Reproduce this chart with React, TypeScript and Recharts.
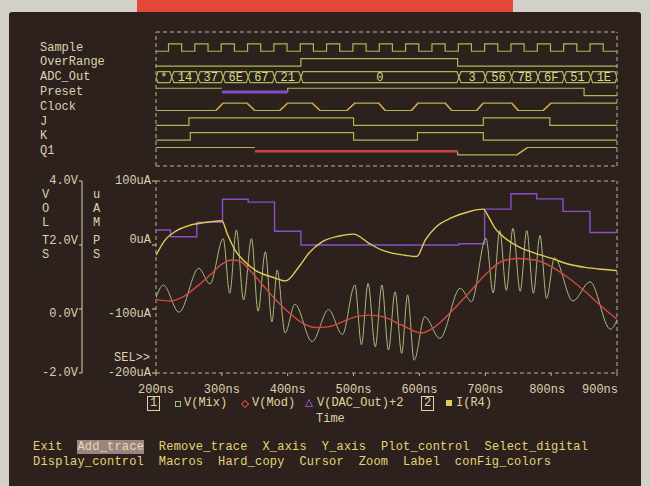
import { LineChart, Line, XAxis, YAxis, ReferenceLine, ReferenceDot } from 'recharts'

const MONO = "'Liberation Mono', 'DejaVu Sans Mono', monospace"
const BG = '#2c211d'
const INK = '#ddd1ae'
const DASH = '#bdb49c'
const DIG = '#a9b957'
const AMBER = '#d6a248'
const MIX_C = '#a6ba7c'
const MOD_C = '#d24b40'
const DAC_C = '#8b50c8'
const IR4_C = '#dfcd58'
const MENU = '#e4d577'

// ---- analog traces: [time ns, value] ----
const MIX: [number, number][] = [
  [200, 0.35], [211, 0.75], [235, -0.1], [265, 1.27], [282, 0.78], [302, 2.2], [312, 0.49], [322, 2.47],
  [333, 0.28], [345, 2.2], [355, -0.07], [366, 1.79], [376, -0.4], [384, 1.22], [396, -0.75], [411, 0.15],
  [437, -1.02], [462, -0.02], [483, -0.8], [502, 0.75], [512, -1.12], [522, 0.8], [533, -1.18], [543, 0.75],
  [553, -1.28], [563, 0.54], [573, -1.39], [582, 0.44], [592, -1.6], [608, -0.24], [631, -0.92], [662, 0.65],
  [679, 0.23], [701, 2.21], [712, 0.5], [722, 2.45], [732, 0.58], [742, 2.52], [753, 0.55], [763, 2.45],
  [773, 0.49], [783, 2.3], [793, 0.33], [805, 1.6], [833, 0.25], [859, 0.85], [890, -0.63], [900, -0.35],
]
const MOD: [number, number][] = [
  [200, 0.3], [221, 0.25], [241, 0.38], [262, 0.7], [282, 1.06], [300, 1.4], [315, 1.53], [327, 1.5],
  [342, 1.22], [362, 0.75], [382, 0.28], [403, -0.13], [423, -0.45], [443, -0.58], [463, -0.55], [483, -0.4],
  [504, -0.24], [524, -0.19], [544, -0.24], [573, -0.5], [603, -0.75], [624, -0.55], [650, -0.05], [675, 0.5],
  [700, 1.07], [726, 1.5], [751, 1.58], [776, 1.53], [801, 1.32], [827, 0.96], [852, 0.54], [877, 0.07], [900, -0.32],
]
const DAC_T = [200, 222, 262, 301, 340, 380, 420, 660, 699, 739, 778, 818, 859, 900]
const DAC_V = [2.47, 2.26, 2.71, 3.43, 3.34, 2.43, 2.0, 2.04, 3.12, 3.6, 3.44, 3.05, 2.39, 2.39]
const IR4: [number, number][] = [
  [200, -16], [214, 8], [229, 21], [249, 30], [274, 35], [300, 38], [308, 18], [320, -8], [335, -26],
  [355, -42], [376, -50], [397, -56], [417, -34], [432, -13], [452, 5], [478, 14], [500, 17], [523, 3],
  [543, -8], [560, -13], [578, -16], [596, -18], [609, 8], [624, 27], [650, 43], [675, 52], [697, 56],
  [705, 44], [715, 26], [731, 10], [751, -3], [776, -13], [801, -21], [827, -30], [852, -35], [877, -38], [900, -40],
]

const X_TICKS = [200, 300, 400, 500, 600, 700, 800, 900]
const V_TICKS = [-2, 0, 2, 4]
const I_TICKS = [-200, -100, 0, 100]

// ---- digital waves: [start, end, level]  (start < end = slow transition) ----
type Lvl = 0 | 1 | 'x' | 'z'
type Edge = [number, number, Lvl]
const ROWS = ['Sample', 'OverRange', 'ADC_Out', 'Preset', 'Clock', 'J', 'K', 'Q1']
const SAMPLE: Edge[] = [
  [200, 200, 0], [219, 219, 1], [239, 239, 0], [259, 259, 1], [279, 279, 0], [299, 299, 1], [319, 319, 0],
  [339, 339, 1], [359, 359, 0], [379, 379, 1], [399, 399, 0], [419, 419, 1], [439, 439, 0], [459, 459, 1],
  [479, 479, 0], [499, 499, 1], [519, 519, 0], [539, 539, 1], [559, 559, 0], [579, 579, 1], [599, 599, 0],
  [619, 619, 1], [639, 639, 0], [659, 659, 1], [679, 679, 0], [699, 699, 1], [719, 719, 0], [739, 739, 1],
  [759, 759, 0], [779, 779, 1], [799, 799, 0], [819, 819, 1], [839, 839, 0], [859, 859, 1], [879, 879, 0],
]
const OVER: Edge[] = [[200, 200, 0], [420, 420, 1], [658, 658, 0]]
const PRESET: Edge[] = [[200, 200, 1], [300, 300, 'z'], [400, 400, 1], [850, 850, 0]]
const CLOCK: Edge[] = [
  [200, 200, 0], [291, 302, 1], [338, 350, 0], [388, 400, 1], [437, 449, 0], [490, 502, 1], [538, 548, 0],
  [588, 598, 1], [639, 649, 0], [687, 697, 1], [740, 750, 0], [788, 800, 1],
]
const J: Edge[] = [[200, 200, 0], [250, 250, 1], [500, 500, 0], [697, 697, 1], [798, 798, 0]]
const K: Edge[] = [[200, 200, 0], [252, 252, 1], [500, 500, 0], [597, 597, 1], [697, 697, 0]]
const Q1: Edge[] = [[200, 200, 1], [350, 350, 'x'], [658, 658, 0], [748, 764, 1]]

const BUS_T = [200, 224, 264, 302, 340, 380, 420, 660, 700, 740, 780, 820, 860, 900]
const BUS_VAL = ['*', '14', '37', '6E', '67', '21', '0', '3', '56', '7B', '6F', '51', '1E']

type Pt = { t: number; y: number | null }

const lvlY = (row: number, l: Lvl) => (l === 1 ? row - 0.25 : l === 0 ? row + 0.25 : row)

function buildWave(edges: Edge[], row: number) {
  const main: Pt[] = []
  const ramps: Pt[] = []
  const x: Pt[] = []
  const z: Pt[] = []
  edges.forEach((e, i) => {
    const [start, end, lvl] = e
    const stop = i + 1 < edges.length ? edges[i + 1][0] : 900
    const prev = i > 0 ? edges[i - 1][2] : null
    if (lvl === 0 || lvl === 1) {
      if (prev === 'x' || prev === 'z') main.push({ t: end, y: row })
      main.push({ t: end, y: lvlY(row, lvl) }, { t: stop, y: lvlY(row, lvl) })
      if (end > start && (prev === 0 || prev === 1)) {
        ramps.push({ t: start, y: lvlY(row, prev) }, { t: end, y: lvlY(row, lvl) }, { t: end, y: null })
      }
    } else {
      main.push({ t: end, y: null })
      const seg = lvl === 'x' ? x : z
      seg.push({ t: end, y: row }, { t: stop, y: row }, { t: stop, y: null })
    }
  })
  return { main, ramps, x, z }
}

const WAVES = [
  { row: 0, w: buildWave(SAMPLE, 0) },
  { row: 1, w: buildWave(OVER, 1) },
  { row: 3, w: buildWave(PRESET, 3) },
  { row: 4, w: buildWave(CLOCK, 4) },
  { row: 5, w: buildWave(J, 5) },
  { row: 6, w: buildWave(K, 6) },
  { row: 7, w: buildWave(Q1, 7) },
]

const busHi: Pt[] = []
const busLo: Pt[] = []
BUS_T.forEach((t, i) => {
  if (i > 0) {
    busHi.push({ t: t - 3, y: 2 - 0.37 })
    busLo.push({ t: t - 3, y: 2 + 0.37 })
  }
  busHi.push({ t, y: 2 })
  busLo.push({ t, y: 2 })
  if (i < BUS_T.length - 1) {
    busHi.push({ t: t + 3, y: 2 - 0.37 })
    busLo.push({ t: t + 3, y: 2 + 0.37 })
  }
})

const mixData = MIX.map(([t, v]) => ({ t, v }))
const modData = MOD.map(([t, v]) => ({ t, v }))
const dacData = DAC_T.map((t, i) => ({ t, v: DAC_V[i] }))
const irData = IR4.map(([t, v]) => ({ t, v }))

const txt = { fontFamily: MONO, fontSize: 12 }

const VTick = (p: any) => {
  const v = p.payload.value
  const dy = v === 2 ? -4 : v === 0 ? 5 : 0
  return <text x={p.x} y={p.y + dy} textAnchor="end" dominantBaseline="central" fill={INK} {...txt}>{v.toFixed(1)}V</text>
}
const ITick = (p: any) => {
  const v = p.payload.value
  const dy = v === 0 ? -5 : v === -100 ? 5 : 0
  return <text x={p.x} y={p.y + dy} textAnchor="end" dominantBaseline="central" fill={INK} {...txt}>{v}uA</text>
}
const XTick = (p: any) => {
  const v = p.payload.value
  const last = v === 900
  return (
    <text x={last ? p.x + 1 : v === 800 ? p.x - 4 : p.x} y={p.y} dy="0.71em" textAnchor={last ? 'end' : 'middle'} fill={INK} {...txt}>
      {v}ns
    </text>
  )
}
const RowTick = (p: any) => (
  <text x={40} y={p.y} dominantBaseline="central" fill={INK} {...txt}>{ROWS[p.payload.value]}</text>
)

const Txt = ({ x, y, children, color = INK }: { x: number; y: number; children: any; color?: string }) => (
  <div style={{ position: 'absolute', left: x, top: y - 7, lineHeight: '14px', whiteSpace: 'pre', color }}>{children}</div>
)

export default function App() {
  const dash = { stroke: DASH, strokeDasharray: '4 3', strokeWidth: 1 }
  return (
    <div style={{ position: 'fixed', left: 0, top: 0, width: 650, height: 486, background: '#d3cfc9', overflow: 'hidden', fontFamily: MONO, fontSize: 12 }}>
      <div style={{ position: 'absolute', left: 137, top: 0, width: 376, height: 14, background: '#e5463a' }} />
      <div style={{ position: 'absolute', left: 9, top: 12, width: 632, height: 480, background: BG, borderRadius: 3 }} />

      {/* digital section */}
      <div style={{ position: 'absolute', left: 0, top: 0 }}>
        <LineChart width={650} height={170} margin={{ top: 32, right: 33, bottom: 4, left: 40 }}>
          <XAxis dataKey="t" type="number" domain={[200, 900]} allowDataOverflow hide />
          <YAxis type="number" domain={[-1.05, 8]} reversed allowDataOverflow width={116} ticks={[0, 1, 2, 3, 4, 5, 6, 7]}
            axisLine={false} tickLine={false} tick={RowTick} interval={0} />
          <ReferenceLine y={-1.05} {...dash} />
          <ReferenceLine y={8} {...dash} />
          <ReferenceLine x={200} {...dash} />
          <ReferenceLine x={900} {...dash} />
          {WAVES.map(({ row, w }) => (
            <Line key={'m' + row} data={w.main} dataKey="y" type="linear" stroke={DIG} strokeWidth={1.2} dot={false} isAnimationActive={false} />
          ))}
          {WAVES.map(({ row, w }) => (
            <Line key={'r' + row} data={w.ramps} dataKey="y" type="linear" stroke={AMBER} strokeWidth={1.4} dot={false} isAnimationActive={false} />
          ))}
          {WAVES.map(({ row, w }) => (
            <Line key={'z' + row} data={w.z} dataKey="y" type="linear" stroke="#7c50c8" strokeWidth={3} dot={false} isAnimationActive={false} />
          ))}
          {WAVES.map(({ row, w }) => (
            <Line key={'x' + row} data={w.x} dataKey="y" type="linear" stroke="#c4453e" strokeWidth={2.6} dot={false} isAnimationActive={false} />
          ))}
          <Line data={busHi} dataKey="y" type="linear" stroke={DIG} strokeWidth={1.2} dot={false} isAnimationActive={false} />
          <Line data={busLo} dataKey="y" type="linear" stroke={DIG} strokeWidth={1.2} dot={false} isAnimationActive={false} />
          {BUS_VAL.map((v, i) => (
            <ReferenceDot key={i} x={(BUS_T[i] + BUS_T[i + 1]) / 2} y={2} r={0} fill="none" stroke="none"
              label={{ value: v, position: 'center', fill: '#d6de84', fontSize: 12, fontFamily: MONO }} />
          ))}
        </LineChart>
      </div>

      {/* axis titles */}
      {'VOLTS'.split('').map((c, i) => <Txt key={'v' + i} x={42} y={[195, 209, 223, 241, 255][i]}>{c}</Txt>)}
      {'uAMPS'.split('').map((c, i) => <Txt key={'a' + i} x={93} y={[195, 209, 223, 241, 255][i]}>{c}</Txt>)}
      <Txt x={114} y={358}>SEL&gt;&gt;</Txt>

      {/* analog section */}
      <div style={{ position: 'absolute', left: 0, top: 0 }}>
        <LineChart width={650} height={486} margin={{ top: 181, right: 33, bottom: 83, left: 0 }}>
          <XAxis dataKey="t" type="number" domain={[200, 900]} ticks={X_TICKS} allowDataOverflow height={30}
            axisLine={false} tickSize={3} tickMargin={8} tickLine={{ stroke: DASH }} tick={XTick} interval={0} />
          <YAxis yAxisId="i" orientation="left" type="number" domain={[-200, 100]} ticks={I_TICKS} allowDataOverflow width={74}
            axisLine={false} tickSize={4} tickMargin={1} tickLine={{ stroke: INK }} tick={ITick} interval={0} />
          <YAxis yAxisId="v" orientation="left" type="number" domain={[-2, 4]} ticks={V_TICKS} allowDataOverflow width={82}
            axisLine={{ stroke: INK }} tickSize={3} tickMargin={1} tickLine={{ stroke: INK }} tick={VTick} interval={0} />
          <ReferenceLine yAxisId="v" y={4} {...dash} />
          <ReferenceLine yAxisId="v" y={-2} {...dash} />
          <ReferenceLine yAxisId="v" x={200} {...dash} />
          <ReferenceLine yAxisId="v" x={900} {...dash} />
          <Line yAxisId="v" data={dacData} dataKey="v" type="stepAfter" stroke={DAC_C} strokeWidth={1.4} dot={false} isAnimationActive={false} />
          <Line yAxisId="v" data={mixData} dataKey="v" type="monotone" stroke={MIX_C} strokeWidth={1} dot={false} isAnimationActive={false} />
          <Line yAxisId="v" data={modData} dataKey="v" type="monotone" stroke={MOD_C} strokeWidth={1.4} dot={false} isAnimationActive={false} />
          <Line yAxisId="i" data={irData} dataKey="v" type="monotone" stroke={IR4_C} strokeWidth={1.4} dot={false} isAnimationActive={false} />
        </LineChart>
      </div>

      {/* legend */}
      <div style={{ position: 'absolute', left: 147, top: 396, width: 11, height: 13, border: `1px solid ${INK}`, color: INK, lineHeight: '13px', textAlign: 'center' }}>1</div>
      <div style={{ position: 'absolute', left: 175, top: 401, width: 4, height: 4, border: `1px solid ${MIX_C}` }} />
      <Txt x={184} y={403} color="#e0d39c">V(Mix)</Txt>
      <div style={{ position: 'absolute', left: 242, top: 401, width: 4, height: 4, border: `1px solid ${MOD_C}`, transform: 'rotate(45deg)' }} />
      <Txt x={252} y={403} color="#e0d39c">V(Mod)</Txt>
      <svg style={{ position: 'absolute', left: 305, top: 399 }} width={8} height={8}>
        <polygon points="4,0.5 7.5,7.5 0.5,7.5" fill="none" stroke={DAC_C} strokeWidth={1} />
      </svg>
      <Txt x={317} y={403} color="#e0d39c">V(DAC_Out)+2</Txt>
      <div style={{ position: 'absolute', left: 421, top: 396, width: 11, height: 13, border: `1px solid ${INK}`, color: INK, lineHeight: '13px', textAlign: 'center' }}>2</div>
      <div style={{ position: 'absolute', left: 446, top: 400, width: 6, height: 6, background: IR4_C }} />
      <Txt x={456} y={403} color="#e0d39c">I(R4)</Txt>
      <Txt x={316} y={419}>Time</Txt>

      {/* menu */}
      <div style={{ position: 'absolute', left: 33, top: 440, lineHeight: '15px', whiteSpace: 'pre', color: MENU, letterSpacing: 0.2 }}>
        <span>Exit  </span>
        <span style={{ background: '#9b8583', color: '#e6dba6' }}>Add_trace</span>
        <span>  Remove_trace  X_axis  Y_axis  Plot_control  Select_digital</span>
        <br />
        <span>Display_control  Macros  Hard_copy  Cursor  Zoom  Label  conFig_colors</span>
      </div>
    </div>
  )
}
